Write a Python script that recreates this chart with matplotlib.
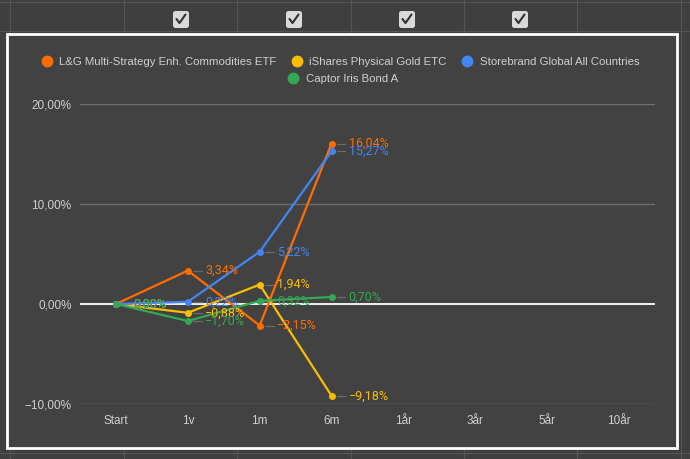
import matplotlib
matplotlib.use("Agg")
import matplotlib.pyplot as plt
import matplotlib.transforms as mtransforms
from matplotlib.patches import Rectangle, FancyBboxPatch
from matplotlib.lines import Line2D

# data
categories = ["Start", "1v", "1m", "6m", "1år", "3år", "5år", "10år"]
series_names = ["L&G Multi-Strategy Enh. Commodities ETF", "iShares Physical Gold ETC",
                "Storebrand Global All Countries", "Captor Iris Bond A"]
lg_vals = [0.0, 3.34, -2.15, 16.04]
gold_vals = [0.0, -0.88, 1.94, -9.18]
store_vals = [0.0, 0.22, 5.22, 15.27]
captor_vals = [0.0, -1.70, 0.32, 0.70]
colors = ["#ff6d01", "#fbbc04", "#4285f4", "#34a853"]
yticks = [-10, 0, 10, 20]


def pct(v):
    return f"{v:.2f}%".replace(".", ",").replace("-", "\u2212")


W, H = 690, 459
bg = "#3f3f3f"
fig = plt.figure(figsize=(W / 100, H / 100), dpi=100, facecolor=bg)

# spreadsheet behind the chart (pixel coordinates)
bgax = fig.add_axes([0, 0, 1, 1], zorder=0)
bgax.set_xlim(0, W)
bgax.set_ylim(H, 0)
bgax.axis("off")
grid_c = "#555555"
for x in [10, 124, 237, 351, 464, 577, 681]:
    bgax.plot([x, x], [0, H], color=grid_c, lw=0.8, zorder=1)
for y in [2, 31, 453]:
    bgax.plot([0, W], [y, y], color=grid_c, lw=0.8, zorder=1)
for cx in [181, 294, 407, 520]:
    bgax.add_patch(FancyBboxPatch((cx - 8, 11), 16, 17, boxstyle="round,pad=0,rounding_size=2.5",
                                  fc="#d9d9d9", ec="none", zorder=2))
    bgax.plot([cx - 4.5, cx - 1.5, cx + 4.5], [19, 23, 14.5], color="#333333", lw=1.5,
              solid_capstyle="round", zorder=3)
bgax.add_patch(Rectangle((7, 34), 670, 414, fc="#424242", ec="white", lw=2, zorder=4))

# chart
ax = fig.add_axes([80 / W, 55 / H, 575 / W, 300 / H], zorder=1)
ax.set_facecolor("none")
for s in ax.spines.values():
    s.set_visible(False)
ax.set_xlim(-0.5, len(categories) - 0.5)
ax.set_ylim(-10, 20)
ax.set_yticks(yticks)
ax.set_yticklabels([pct(v) for v in yticks], color="#d0d0d0", fontsize=8.5,
                   family="Liberation Sans")
ax.set_xticks(range(len(categories)))
ax.set_xticklabels(categories, color="#d0d0d0", fontsize=8.5, family="Liberation Sans")
ax.tick_params(axis="y", length=0, pad=6)
ax.tick_params(axis="x", length=0, pad=8)
for v in yticks:
    ax.axhline(v, color="#ffffff" if v == 0 else "#6e6e6e", lw=1.3 if v == 0 else 1.0, zorder=0)

all_vals = [lg_vals, gold_vals, store_vals, captor_vals]
# leader line runs from 3.6pt to 10pt right of each point
t1 = mtransforms.offset_copy(ax.transData, fig=fig, x=3.6, y=0, units="points")
t2 = mtransforms.offset_copy(ax.transData, fig=fig, x=10.0, y=0, units="points")
for vals, c in zip(all_vals, colors):
    xs = list(range(len(vals)))
    ax.plot(xs, vals, color=c, lw=1.6, marker="o", ms=4, zorder=3)
    for x, v in zip(xs, vals):
        p1 = t1.transform((x, v))
        p2 = t2.transform((x, v))
        ax.add_line(Line2D([p1[0], p2[0]], [p1[1], p2[1]], transform=None,
                           color="#6a6a6a", lw=0.9, zorder=2))
        ax.annotate(pct(v), xy=(x, v), xytext=(12.3, 0), textcoords="offset points",
                    va="center", ha="left", color=c, fontsize=9, family="Roboto", zorder=4)

# legend in two centred rows
handles = [Line2D([], [], ls="none", marker="o", ms=7.5, color=c) for c in colors]
leg_kw = dict(frameon=False, handletextpad=0.6, columnspacing=1.3,
              prop={"family": "Liberation Sans", "size": 8.2}, labelcolor="#d0d0d0",
              handlelength=1.0)
fig.legend(handles[:3], series_names[:3], ncol=3, loc="center",
           bbox_to_anchor=(0.493, 1 - 62 / H), **leg_kw)
fig.legend(handles[3:], series_names[3:], ncol=1, loc="center",
           bbox_to_anchor=(0.497, 1 - 78.5 / H), **leg_kw)

fig.savefig("out.png", dpi=100, facecolor=bg)
